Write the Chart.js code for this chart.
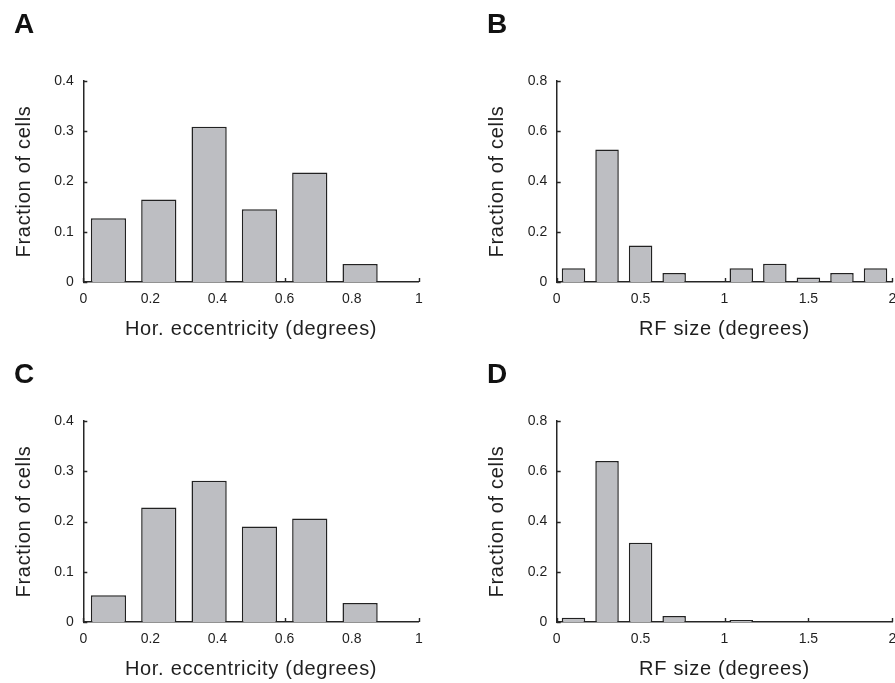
<!DOCTYPE html>
<html>
<head>
<meta charset="utf-8">
<script src="https://cdn.jsdelivr.net/npm/chart.js@4.4.1/dist/chart.umd.min.js"></script>
<style>
  html, body { margin: 0; padding: 0; background: #fff; overflow: hidden; width: 895px; height: 683px; }
  body { position: relative; }
  canvas { position: absolute; }
</style>
</head>
<body>
<canvas id="panelA" width="440" height="343" style="left:0px;top:0px"></canvas>
<canvas id="panelB" width="440" height="343" style="left:473px;top:0px"></canvas>
<canvas id="panelC" width="440" height="343" style="left:0px;top:340px"></canvas>
<canvas id="panelD" width="440" height="343" style="left:473px;top:340px"></canvas>
<script>
// Horizontal eccentricity histograms (bins of 0.15 deg)
const eccBinCenters = [0.075, 0.225, 0.375, 0.525, 0.675, 0.825];
const eccFractionA = [0.127, 0.164, 0.309, 0.145, 0.218, 0.036];
const eccFractionC = [0.053, 0.228, 0.281, 0.190, 0.206, 0.038];

// RF size histograms (bins of 0.2 deg)
const rfBinCenters = [0.1, 0.3, 0.5, 0.7, 0.9, 1.1, 1.3, 1.5, 1.7, 1.9];
const rfFractionB = [0.055, 0.527, 0.145, 0.036, 0, 0.055, 0.073, 0.018, 0.036, 0.055];
const rfFractionD = [0.017, 0.641, 0.315, 0.024, 0, 0.008, 0, 0, 0, 0];

// Axis ticks and their labels
const eccTicks = [0, 0.2, 0.4, 0.6, 0.8, 1];
const eccTickLabels = ['0', '0.2', '0.4', '0.6', '0.8', '1'];
const rfTicks = [0, 0.5, 1, 1.5, 2];
const rfTickLabels = ['0', '0.5', '1', '1.5', '2'];
const eccFracTicks = [0, 0.1, 0.2, 0.3, 0.4];
const eccFracTickLabels = ['0', '0.1', '0.2', '0.3', '0.4'];
const rfFracTicks = [0, 0.2, 0.4, 0.6, 0.8];
const rfFracTickLabels = ['0', '0.2', '0.4', '0.6', '0.8'];

const INK = '#1f1f1f';
const AXIS = '#262626';
const BAR_FILL = '#bdbec2';
const BAR_EDGE = '#222222';
const FAMILY = '"Liberation Sans", Arial, Helvetica, sans-serif';

Chart.defaults.font.family = FAMILY;
Chart.defaults.color = INK;

// Short tick marks pointing into the plot, drawn beneath the bars.
// Axis titles are drawn with a slightly open letter spacing.
const axisStyle = {
  id: 'axisStyle',
  beforeDraw(chart) {
    chart.ctx.letterSpacing = '0.7px';
  },
  beforeDatasetsDraw(chart) {
    const { ctx, chartArea, scales } = chart;
    ctx.letterSpacing = '0px';
    ctx.save();
    ctx.strokeStyle = AXIS;
    ctx.lineWidth = 1.4;
    ctx.beginPath();
    scales.x.ticks.forEach(t => {
      const px = Math.round(scales.x.getPixelForValue(t.value)) + 0.5;
      ctx.moveTo(px, chartArea.bottom);
      ctx.lineTo(px, chartArea.bottom - 4);
    });
    scales.y.ticks.forEach(t => {
      const py = Math.round(scales.y.getPixelForValue(t.value)) + 0.5;
      ctx.moveTo(chartArea.left, py);
      ctx.lineTo(chartArea.left + 4, py);
    });
    ctx.stroke();
    ctx.restore();
  }
};

function makePanel(id, letter, letterTop, bins, fractions, xTicks, xLabels, yTicks, yLabels, xTitle, yAxisWidth, rightPad) {
  const lineH = 33.6; // 28px bold letter, line height 1.2
  new Chart(document.getElementById(id), {
    type: 'bar',
    data: {
      datasets: [{
        data: bins.map((x, i) => ({ x: x, y: fractions[i] })),
        backgroundColor: BAR_FILL,
        borderColor: BAR_EDGE,
        borderWidth: 1.5,
        categoryPercentage: 1.0,
        barPercentage: 0.7
      }]
    },
    options: {
      responsive: false,
      animation: false,
      events: [],
      layout: { padding: { left: 14, top: 0, right: rightPad, bottom: 0 } },
      plugins: {
        legend: { display: false },
        tooltip: { enabled: false },
        title: {
          display: true,
          text: letter,
          align: 'start',
          color: '#111',
          font: { family: FAMILY, size: 28, weight: 'bold', lineHeight: 1.2 },
          padding: { top: letterTop, bottom: 81 - lineH - letterTop }
        }
      },
      scales: {
        x: {
          type: 'linear',
          offset: false,
          min: xTicks[0],
          max: xTicks[xTicks.length - 1],
          afterBuildTicks: s => { s.ticks = xTicks.map(v => ({ value: v })); },
          afterFit: s => { s.height = 61; },
          grid: { display: false, drawTicks: false, offset: false },
          border: { display: true, color: AXIS, width: 1.5 },
          ticks: {
            z: 1,
            padding: 9,
            maxRotation: 0,
            autoSkip: false,
            color: INK,
            font: { size: 14, lineHeight: 1.2 },
            callback: (v, i) => xLabels[i]
          },
          title: {
            display: true,
            text: xTitle,
            color: INK,
            font: { size: 20, lineHeight: 1 },
            padding: { top: 0, bottom: 3.3 }
          }
        },
        y: {
          type: 'linear',
          min: yTicks[0],
          max: yTicks[yTicks.length - 1],
          afterBuildTicks: s => { s.ticks = yTicks.map(v => ({ value: v })); },
          afterFit: s => { s.width = yAxisWidth; },
          grid: { display: false, drawTicks: false },
          border: { display: true, color: AXIS, width: 1.5 },
          ticks: {
            z: 1,
            padding: 9.5,
            autoSkip: false,
            color: INK,
            font: { size: 14, lineHeight: 1.2 },
            callback: (v, i) => yLabels[i]
          },
          title: {
            display: true,
            text: 'Fraction of cells',
            color: INK,
            font: { size: 20, lineHeight: 1 },
            padding: { top: 0, bottom: 0 }
          }
        }
      }
    },
    plugins: [axisStyle]
  });
}

makePanel('panelA', 'A', 8.7, eccBinCenters, eccFractionA, eccTicks, eccTickLabels,
  eccFracTicks, eccFracTickLabels, 'Hor. eccentricity (degrees)', 69.3, 21.2);
makePanel('panelB', 'B', 8.7, rfBinCenters, rfFractionB, rfTicks, rfTickLabels,
  rfFracTicks, rfFracTickLabels, 'RF size (degrees)', 69.7, 20.7);
makePanel('panelC', 'C', 18.2, eccBinCenters, eccFractionC, eccTicks, eccTickLabels,
  eccFracTicks, eccFracTickLabels, 'Hor. eccentricity (degrees)', 69.3, 21.2);
makePanel('panelD', 'D', 18.2, rfBinCenters, rfFractionD, rfTicks, rfTickLabels,
  rfFracTicks, rfFracTickLabels, 'RF size (degrees)', 69.7, 20.7);
</script>
</body>
</html>
